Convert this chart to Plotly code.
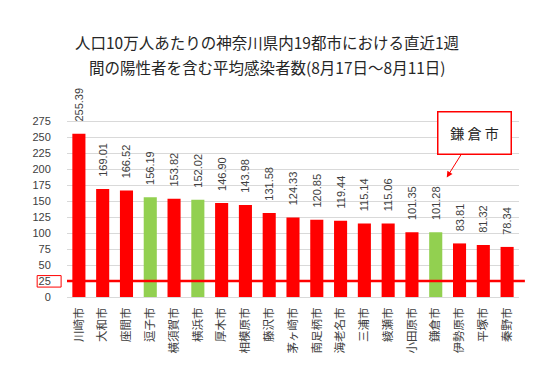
import plotly.graph_objects as go

cities = ["川崎市", "大和市", "座間市", "逗子市", "横須賀市", "横浜市", "厚木市", "相模原市", "藤沢市",
          "茅ヶ崎市", "南足柄市", "海老名市", "三浦市", "綾瀬市", "小田原市", "鎌倉市", "伊勢原市", "平塚市", "秦野市"]
values = [255.39, 169.01, 166.52, 156.19, 153.82, 152.02, 146.90, 143.98, 131.58,
          124.33, 120.85, 119.44, 115.14, 115.06, 101.35, 101.28, 83.81, 81.32, 78.34]
highlight = ["逗子市", "横浜市", "鎌倉市"]
threshold = 25
y_ticks = list(range(0, 276, 25))
title_lines = ["人口10万人あたりの神奈川県内19都市における直近1週",
               "間の陽性者を含む平均感染者数(8月17日～8月11日)"]
callout_city = "鎌倉市"

RED = "#FF0000"
GREEN = "#92D050"
colors = [GREEN if c in highlight else RED for c in cities]
NB = "\u00a0"

fig = go.Figure()
fig.add_trace(go.Bar(
    x=cities, y=values, marker_color=colors, marker_line_width=0,
    text=[NB * 3 + f"{v:.2f}" for v in values], textposition="outside", textangle=-90,
    textfont=dict(size=11, color="#404040", family="Liberation Sans"),
    constraintext="none", cliponaxis=False, hoverinfo="skip",
))

fig.add_shape(type="line", xref="paper", yref="y", x0=0, x1=1.013, y0=threshold, y1=threshold,
              line=dict(color=RED, width=2.5))
fig.add_shape(type="rect", xref="paper", yref="y", x0=-0.066, x1=-0.013, y0=15.5, y1=33.5,
              line=dict(color=RED, width=1))

fig.add_annotation(
    xref="x", yref="y", x=callout_city, y=187, xshift=11,
    ax=28, ay=-44.5, text="鎌 倉 市", showarrow=True, arrowhead=2, arrowsize=1.2,
    arrowwidth=1, arrowcolor=RED, bordercolor=RED, borderwidth=1.5, borderpad=1,
    width=70, height=39, bgcolor="white",
    font=dict(size=14, color="#262626", family="Noto Sans CJK JP"),
)

for line, yp in zip(title_lines, [1.425, 1.285]):
    fig.add_annotation(
        xref="paper", yref="paper", x=0.4425, y=yp, xanchor="center", yanchor="middle",
        text=line, showarrow=False,
        font=dict(size=15.5, color="#262626", family="Noto Sans CJK JP"),
    )

fig.update_layout(
    width=547, height=372,
    margin=dict(l=67, r=28, t=118, b=75),
    plot_bgcolor="white", paper_bgcolor="white",
    showlegend=False,
    bargap=0.45,
    font=dict(family="Noto Sans CJK JP", color="#404040"),
)
fig.update_xaxes(
    tickangle=-90, tickfont=dict(size=11.5, color="#404040", family="Noto Sans CJK JP"),
    showline=True, linecolor="#D9D9D9", linewidth=1, showgrid=False,
    ticks="outside", ticklen=5, tickcolor="rgba(0,0,0,0)",
)
fig.update_yaxes(
    range=[0, 280], tickvals=y_ticks, showgrid=True, gridcolor="#D9D9D9", gridwidth=1,
    zeroline=False, showline=False,
    tickfont=dict(size=11, color="#404040", family="Liberation Sans"),
    ticks="outside", ticklen=13, tickcolor="rgba(0,0,0,0)",
)

fig.write_html("out.html", config={"displayModeBar": False},
               post_script="document.body.style.margin='0';")
